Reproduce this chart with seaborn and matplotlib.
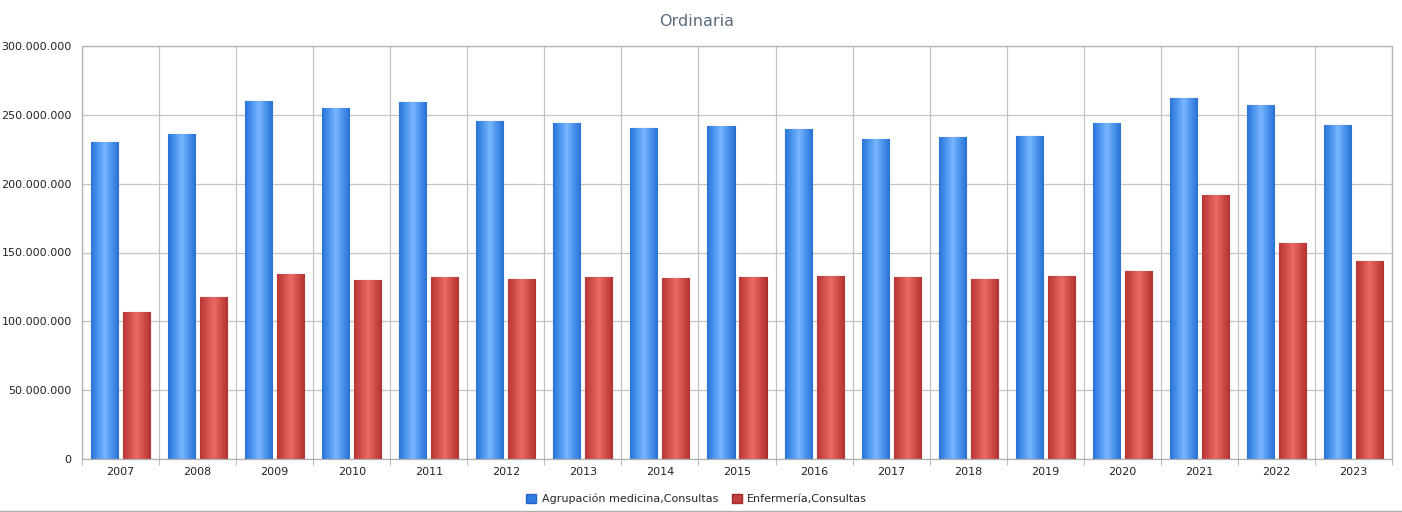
import numpy as np
import pandas as pd
import matplotlib.pyplot as plt
import seaborn as sns
from matplotlib.colors import LinearSegmentedColormap
from matplotlib.patches import Patch
from matplotlib.ticker import FuncFormatter, MultipleLocator, FixedLocator

years = ['2007', '2008', '2009', '2010', '2011', '2012', '2013', '2014', '2015',
         '2016', '2017', '2018', '2019', '2020', '2021', '2022', '2023']
medicina = [230.3, 236.0, 260.0, 255.0, 259.0, 245.5, 244.0, 240.4, 242.0,
            239.7, 232.4, 234.0, 234.6, 244.0, 262.0, 257.0, 242.6]
enfermeria = [106.8, 117.7, 134.4, 130.0, 132.0, 130.7, 132.0, 131.5, 132.0,
              133.0, 132.0, 130.7, 133.0, 136.6, 191.8, 156.9, 143.8]
series = ['Agrupación medicina,Consultas', 'Enfermería,Consultas']

df = pd.DataFrame({
    'year': years * 2,
    'value': [v * 1e6 for v in medicina + enfermeria],
    'serie': [series[0]] * len(years) + [series[1]] * len(years),
})

blue = '#2f7fe3'
red = '#c2413f'
cmaps = [
    LinearSegmentedColormap.from_list('b', ['#2a74d8', '#4c95ee', '#79b6ff', '#4a93ec', '#2a72d4']),
    LinearSegmentedColormap.from_list('r', ['#b83634', '#d24f4c', '#ec6a66', '#d04c49', '#b23331']),
]
edges = ['#2665c0', '#9e2e2c']

sns.set_style('white')
plt.rcParams['font.family'] = ['DejaVu Sans']

fig = plt.figure(figsize=(14.02, 5.12), dpi=100)
ax = fig.add_axes([82 / 1402, 1 - 459 / 512, (1392 - 82) / 1402, (459 - 46) / 512])

sns.barplot(data=df, x='year', y='value', hue='serie', palette=[blue, red],
            width=0.831, gap=0.156, ax=ax, legend=False, saturation=1)

# cylinder-like gradient on every bar
grad = np.linspace(0, 1, 64).reshape(1, -1)
for cont, cm, ec in zip(ax.containers, cmaps, edges):
    for bar in cont:
        x0, y0 = bar.get_x(), bar.get_y()
        w, h = bar.get_width(), bar.get_height()
        bar.set_edgecolor(ec)
        bar.set_linewidth(0.8)
        im = ax.imshow(grad, cmap=cm, aspect='auto', extent=[x0, x0 + w, y0, y0 + h],
                       zorder=bar.get_zorder() + 0.1, interpolation='bilinear')
        im.set_clip_path(bar)

ax.set_xlim(-0.5, len(years) - 0.5)
ax.set_ylim(0, 300e6)
ax.yaxis.set_major_locator(MultipleLocator(50e6))
ax.yaxis.set_major_formatter(FuncFormatter(lambda v, p: f'{int(v):,}'.replace(',', '.')))

ax.xaxis.set_minor_locator(FixedLocator(np.arange(-0.5, len(years), 1.0)))
ax.tick_params(axis='x', which='major', length=0, pad=6, labelsize=8, colors='#222222')
ax.tick_params(axis='x', which='minor', length=4, color='#aaaaaa', direction='out')
ax.tick_params(axis='y', length=4, labelsize=8, direction='out', colors='#aaaaaa', labelcolor='#222222')
ax.tick_params(axis='x', which='both', bottom=True)

ax.grid(True, axis='y', color='#c4c4c4', linewidth=0.9)
ax.grid(True, axis='x', which='minor', color='#c4c4c4', linewidth=0.9)
ax.grid(False, axis='x', which='major')
ax.set_axisbelow(True)
for s in ax.spines.values():
    s.set_color('#b0b0b0')
    s.set_linewidth(0.9)
ax.set_xlabel('')
ax.set_ylabel('')

fig.text(0.497, 1 - 21 / 512, 'Ordinaria', ha='center', va='center', fontsize=11.5, color='#5a6b7c')

handles = [Patch(facecolor=blue, edgecolor=edges[0]), Patch(facecolor=red, edgecolor=edges[1])]
fig.legend(handles, series, loc='center', bbox_to_anchor=(0.497, 1 - 499 / 512), ncol=2,
           frameon=False, fontsize=8, handlelength=0.9, handleheight=0.9,
           handletextpad=0.5, columnspacing=1.2)

fig.add_artist(plt.Line2D([0, 1], [1 / 512, 1 / 512], color='#b0b0b0', linewidth=1))

fig.savefig('out.png', dpi=100)
